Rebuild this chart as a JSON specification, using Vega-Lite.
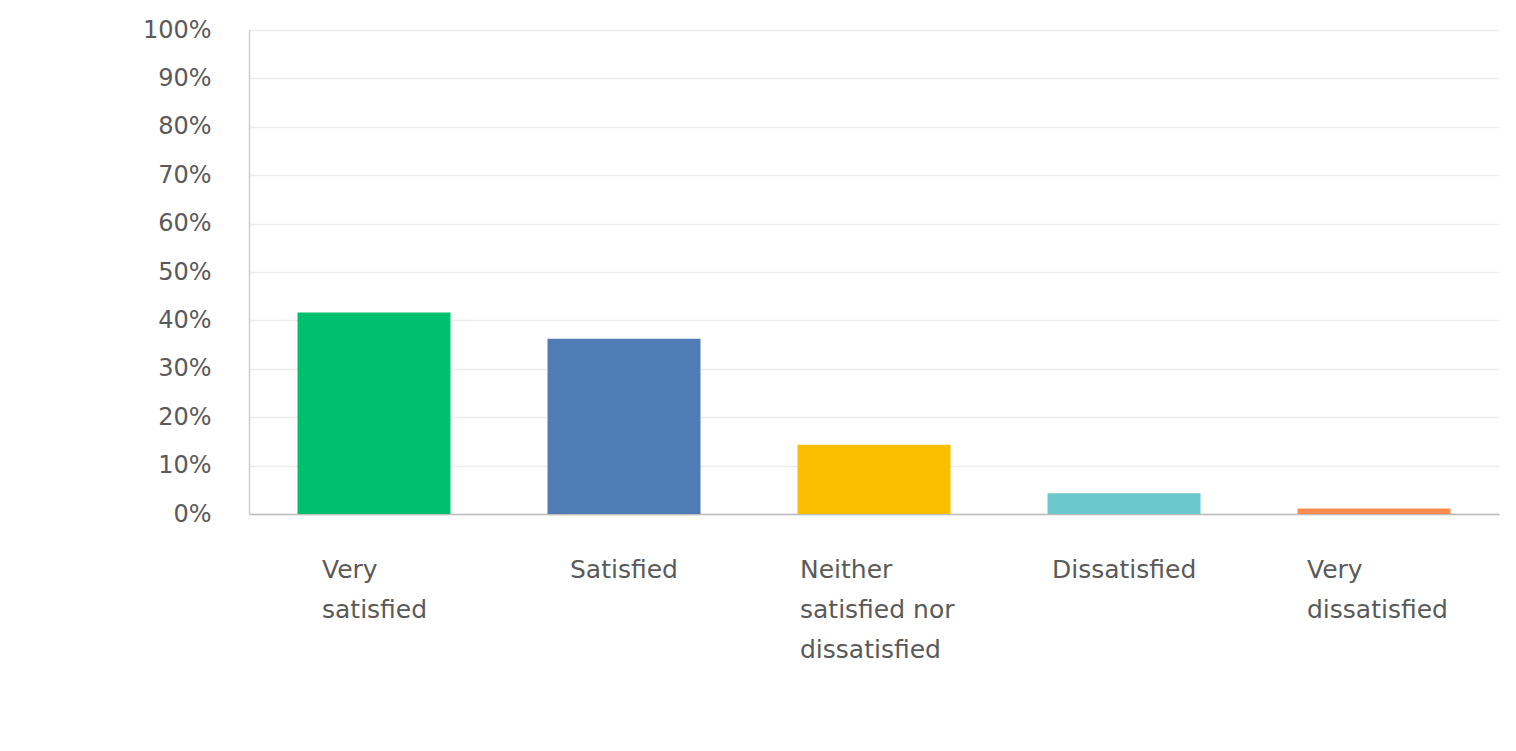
{
  "$schema": "https://vega.github.io/schema/vega-lite/v6.json",
  "width": 1250,
  "height": 484,
  "autosize": {"type": "none"},
  "padding": {"left": 249, "top": 30, "right": 17, "bottom": 237},
  "background": "white",
  "config": {
    "view": {"stroke": null},
    "font": "DejaVu Sans"
  },
  "data": {
    "values": [
      {"response": "Very satisfied", "share": 0.4164},
      {"response": "Satisfied", "share": 0.3622},
      {"response": "Neither satisfied nor dissatisfied", "share": 0.1432},
      {"response": "Dissatisfied", "share": 0.0428},
      {"response": "Very dissatisfied", "share": 0.0113}
    ]
  },
  "mark": {"type": "bar"},
  "encoding": {
    "x": {
      "field": "response",
      "type": "nominal",
      "sort": null,
      "scale": {"paddingInner": 0.388, "paddingOuter": 0.194},
      "axis": {
        "title": null,
        "labelAngle": 0,
        "labelAlign": "left",
        "labelBaseline": "top",
        "labelFont": "DejaVu Sans",
        "labelFontSize": 25,
        "labelColor": "#5a5a5a",
        "labelLineHeight": 40,
        "labelPadding": 43,
        "labelLimit": 400,
        "ticks": false,
        "grid": false,
        "domainColor": "#bdbdbd",
        "domainWidth": 1.5,
        "labelOffset": {"expr": "datum.value == 'Very satisfied' ? -52 : datum.value == 'Satisfied' ? -54 : datum.value == 'Dissatisfied' ? -72 : datum.value == 'Very dissatisfied' ? -67 : -74"},
        "labelExpr": "datum.label == 'Very satisfied' ? ['Very', 'satisfied'] : datum.label == 'Neither satisfied nor dissatisfied' ? ['Neither', 'satisfied nor', 'dissatisfied'] : datum.label == 'Very dissatisfied' ? ['Very', 'dissatisfied'] : datum.label"
      }
    },
    "y": {
      "field": "share",
      "type": "quantitative",
      "scale": {"domain": [0, 1], "nice": false},
      "axis": {
        "title": null,
        "values": [0, 0.1, 0.2, 0.3, 0.4, 0.5, 0.6, 0.7, 0.8, 0.9, 1],
        "format": ".0%",
        "labelFont": "DejaVu Sans",
        "labelFontSize": 24,
        "labelColor": "#5a5a5a",
        "labelPadding": 38,
        "ticks": false,
        "domainColor": "#cfcfcf",
        "domainWidth": 1.5,
        "gridColor": "#ececec",
        "gridWidth": 1.5
      }
    },
    "color": {
      "field": "response",
      "type": "nominal",
      "sort": null,
      "scale": {
        "domain": ["Very satisfied", "Satisfied", "Neither satisfied nor dissatisfied", "Dissatisfied", "Very dissatisfied"],
        "range": ["#00bf6f", "#507cb6", "#f9be00", "#6bc8cd", "#ff8b4f"]
      },
      "legend": null
    }
  }
}
